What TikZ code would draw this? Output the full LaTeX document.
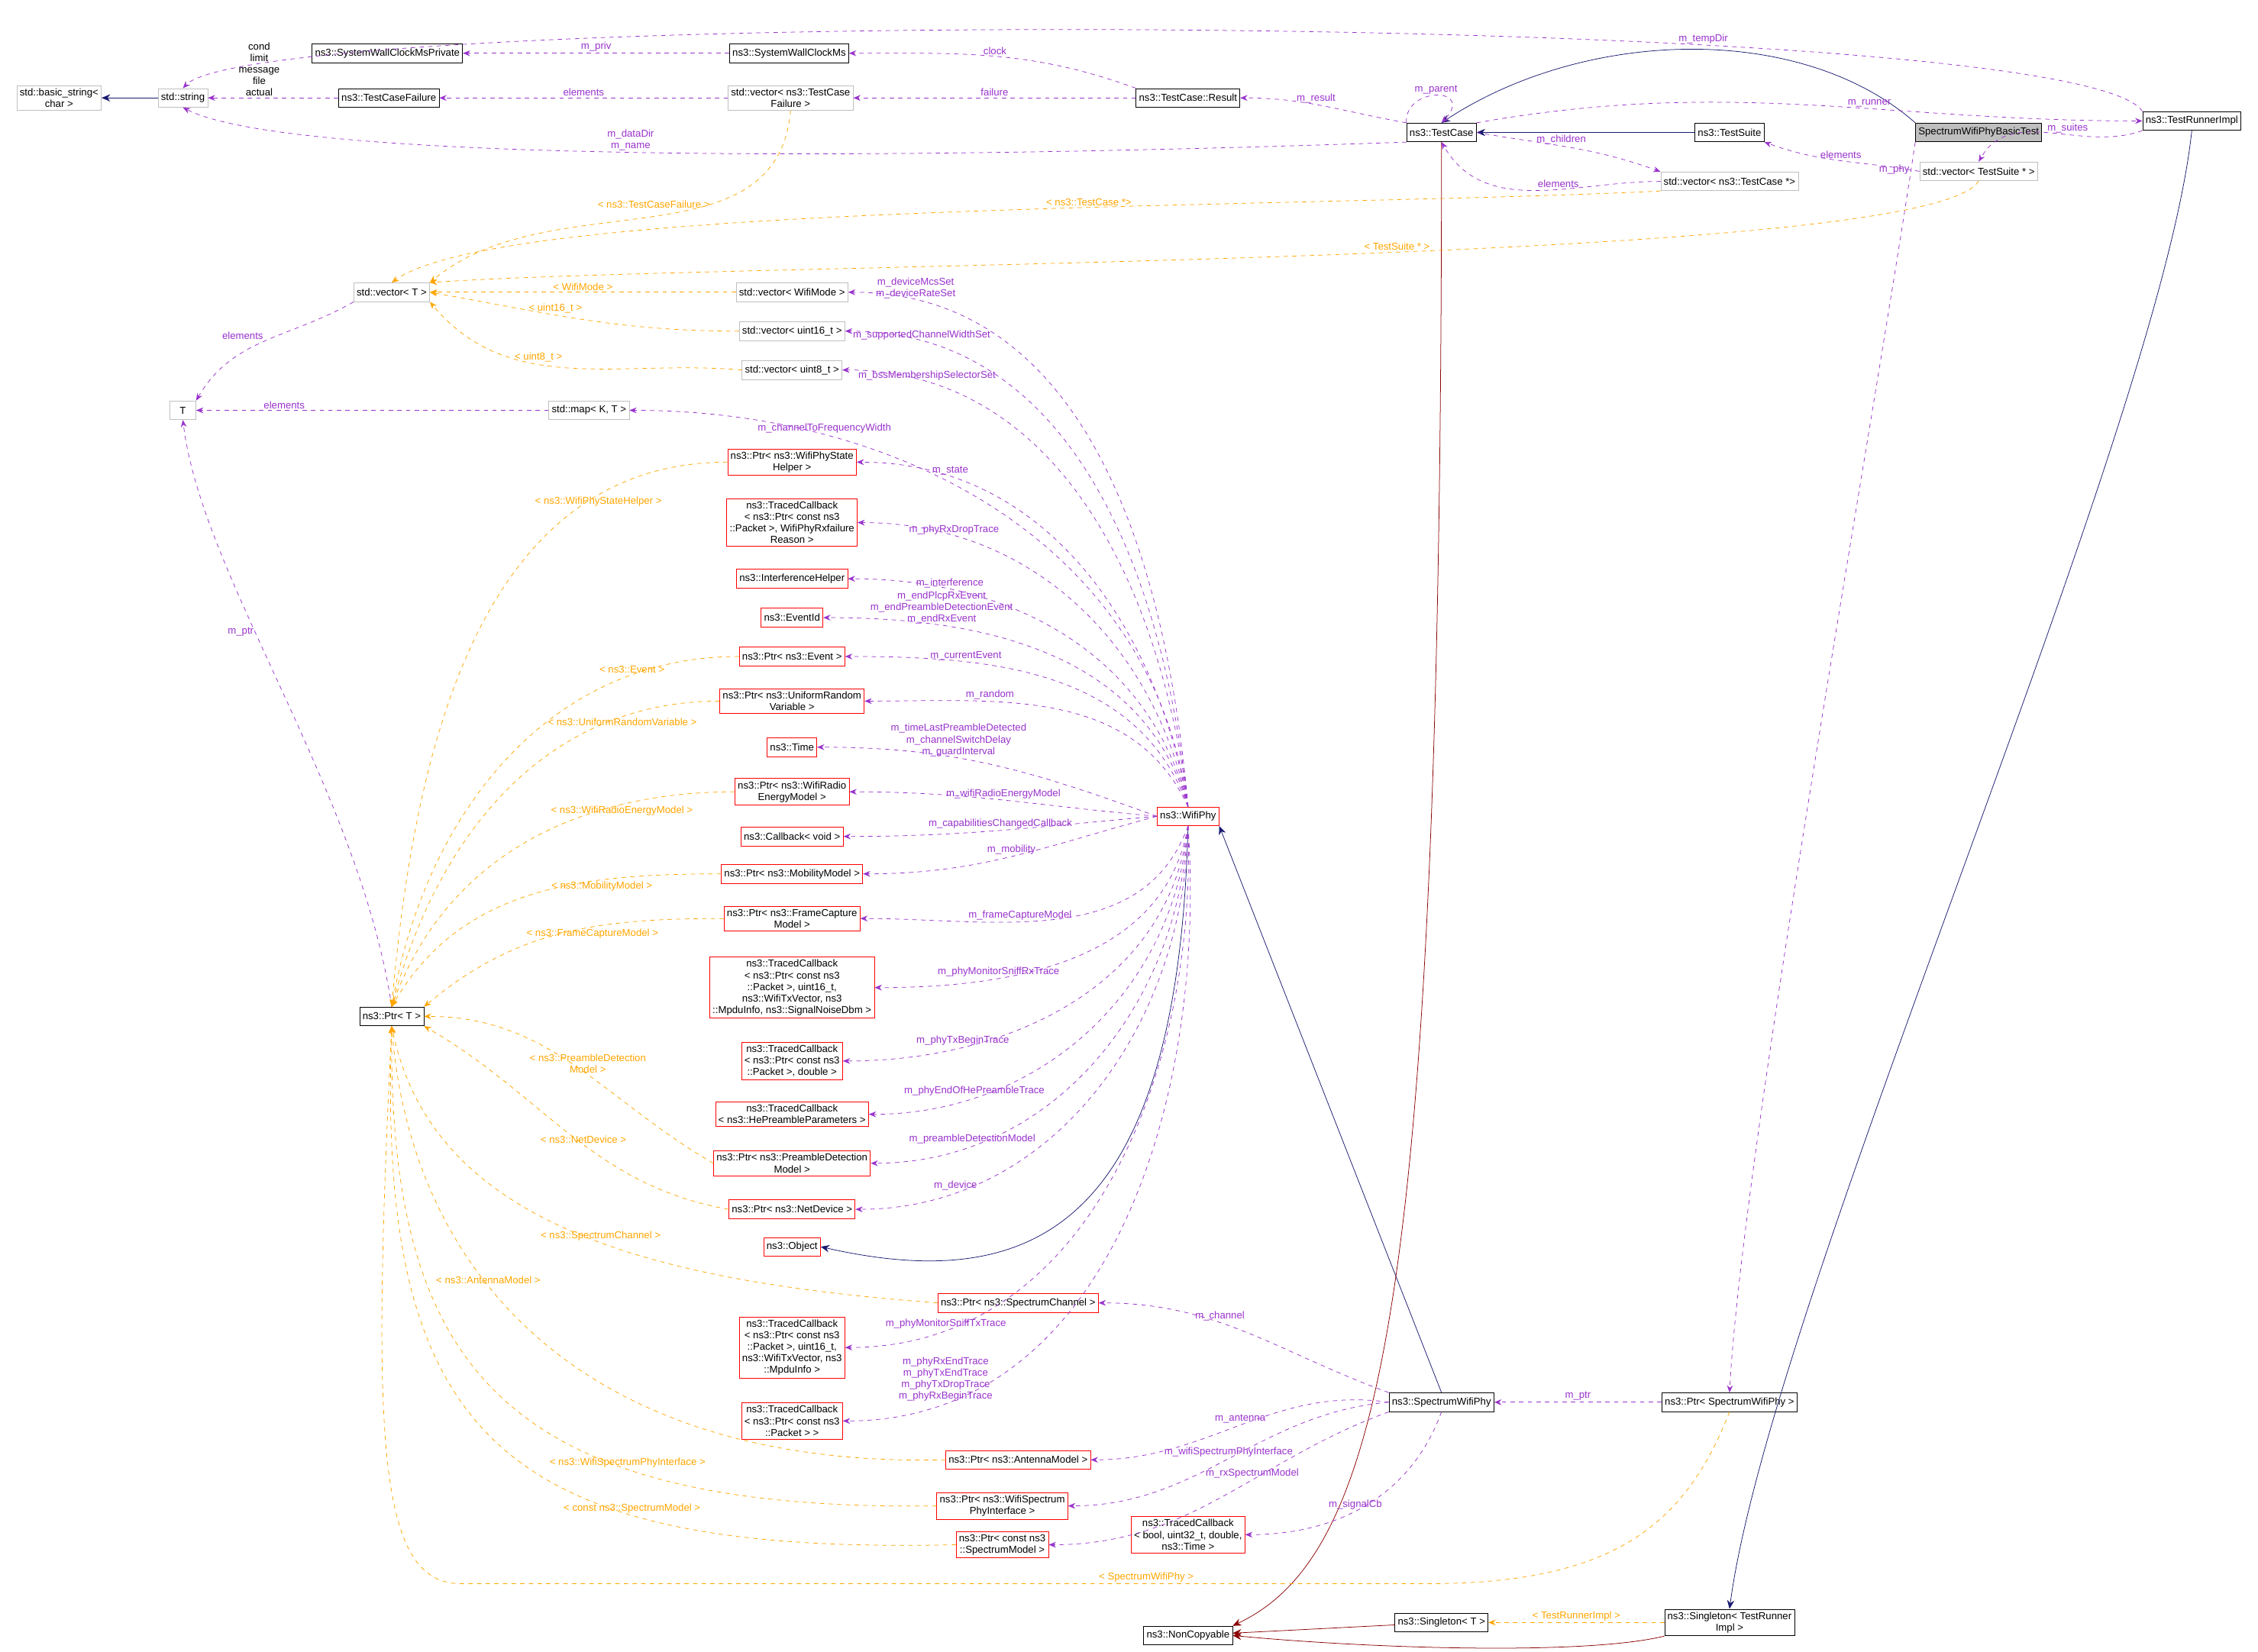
\documentclass[tikz,border=0pt]{standalone}
\usepackage{fontspec}
\setmainfont{Liberation Sans}
\usetikzlibrary{arrows.meta, positioning}
\newcommand{\dfont}{\fontsize{7}{8}\selectfont}
\definecolor{member}{RGB}{153,50,204}
\definecolor{tmpl}{RGB}{255,165,0}
\definecolor{inherit}{RGB}{25,25,112}
\definecolor{priv}{RGB}{139,0,0}
\definecolor{boxgray}{RGB}{191,191,191}
\tikzset{
    box/.style={rectangle, draw, fill=white, minimum height=13pt, inner sep=2pt, align=center, font=\dfont},
    graybox/.style={box, draw=boxgray},
    redbox/.style={box, draw=red},
    mainbox/.style={box, fill=boxgray},
    lbl/.style={font=\dfont, align=center, inner sep=1pt},
    memarrow/.style={-{Stealth[length=5pt, width=4pt]}, member, dashed},
    tmplarrow/.style={-{Stealth[length=5pt, width=4pt]}, tmpl, dashed},
    inharrow/.style={-{Stealth[length=6pt, width=5pt]}, inherit},
    privarrow/.style={-{Stealth[length=6pt, width=5pt]}, priv}
}
\begin{document}
\begin{tikzpicture}[x=1pt, y=-1pt]
    \useasboundingbox (0,0) rectangle (1568,1147);
    % top row
    \node[graybox] (basic_string) at (41,68) {std::basic\_string\textless\\char \textgreater};
    \node[graybox] (std_string) at (127,68) {std::string};
    \node[box] (swcm_private) at (269,37) {ns3::SystemWallClockMsPrivate};
    \node[box] (swcm) at (548,37) {ns3::SystemWallClockMs};
    \node[box] (tc_failure) at (270,68) {ns3::TestCaseFailure};
    \node[graybox] (vec_failure) at (549,68) {std::vector\textless{} ns3::TestCase\\Failure \textgreater};
    \node[box] (tc_result) at (825,68) {ns3::TestCase::Result};
    \node[box] (test_case) at (1001,92) {ns3::TestCase};
    \node[box] (test_suite) at (1201,92) {ns3::TestSuite};
    \node[mainbox] (basic_test) at (1374,92) {SpectrumWifiPhyBasicTest};
    \node[box] (runner_impl) at (1522,84) {ns3::TestRunnerImpl};
    \node[graybox] (vec_case) at (1201,126) {std::vector\textless{} ns3::TestCase *\textgreater};
    \node[graybox] (vec_suite) at (1374,119) {std::vector\textless{} TestSuite * \textgreater};

    % templates
    \node[graybox] (vec_t) at (272,203) {std::vector\textless{} T \textgreater};
    \node[graybox] (vec_mode) at (550,203) {std::vector\textless{} WifiMode \textgreater};
    \node[graybox] (vec_u16) at (550,230) {std::vector\textless{} uint16\_t \textgreater};
    \node[graybox] (vec_u8) at (550,257) {std::vector\textless{} uint8\_t \textgreater};
    \node[graybox, minimum width=18pt] (t_param) at (127,285) {T};
    \node[graybox] (map_kt) at (409,285) {std::map\textless{} K, T \textgreater};
    \node[box] (ptr_t) at (272,706) {ns3::Ptr\textless{} T \textgreater};

    % wifi phy members
    \node[redbox] (ptr_state) at (550,321) {ns3::Ptr\textless{} ns3::WifiPhyState\\Helper \textgreater};
    \node[redbox] (tc_rxfail) at (550,363) {ns3::TracedCallback\\\textless{} ns3::Ptr\textless{} const ns3\\::Packet \textgreater, WifiPhyRxfailure\\Reason \textgreater};
    \node[redbox] (interference) at (550,402) {ns3::InterferenceHelper};
    \node[redbox] (event_id) at (550,429) {ns3::EventId};
    \node[redbox] (ptr_event) at (550,456) {ns3::Ptr\textless{} ns3::Event \textgreater};
    \node[redbox] (ptr_random) at (550,487) {ns3::Ptr\textless{} ns3::UniformRandom\\Variable \textgreater};
    \node[redbox] (time) at (550,519) {ns3::Time};
    \node[redbox] (ptr_energy) at (550,550) {ns3::Ptr\textless{} ns3::WifiRadio\\EnergyModel \textgreater};
    \node[redbox] (callback) at (550,581) {ns3::Callback\textless{} void \textgreater};
    \node[redbox] (ptr_mobility) at (550,607) {ns3::Ptr\textless{} ns3::MobilityModel \textgreater};
    \node[redbox] (ptr_capture) at (550,638) {ns3::Ptr\textless{} ns3::FrameCapture\\Model \textgreater};
    \node[redbox] (tc_sniffrx) at (550,686) {ns3::TracedCallback\\\textless{} ns3::Ptr\textless{} const ns3\\::Packet \textgreater, uint16\_t,\\ ns3::WifiTxVector, ns3\\::MpduInfo, ns3::SignalNoiseDbm \textgreater};
    \node[redbox] (tc_double) at (550,737) {ns3::TracedCallback\\\textless{} ns3::Ptr\textless{} const ns3\\::Packet \textgreater, double \textgreater};
    \node[redbox] (tc_hepre) at (550,774) {ns3::TracedCallback\\\textless{} ns3::HePreambleParameters \textgreater};
    \node[redbox] (ptr_predet) at (550,808) {ns3::Ptr\textless{} ns3::PreambleDetection\\Model \textgreater};
    \node[redbox] (ptr_netdev) at (550,840) {ns3::Ptr\textless{} ns3::NetDevice \textgreater};
    \node[redbox] (object) at (550,866) {ns3::Object};
    \node[redbox] (tc_snifftx) at (550,936) {ns3::TracedCallback\\\textless{} ns3::Ptr\textless{} const ns3\\::Packet \textgreater, uint16\_t,\\ ns3::WifiTxVector, ns3\\::MpduInfo \textgreater};
    \node[redbox] (tc_packet) at (550,987) {ns3::TracedCallback\\\textless{} ns3::Ptr\textless{} const ns3\\::Packet \textgreater{} \textgreater};
    \node[redbox] (wifi_phy) at (825,567) {ns3::WifiPhy};

    % spectrum phy members
    \node[redbox] (ptr_channel) at (707,905) {ns3::Ptr\textless{} ns3::SpectrumChannel \textgreater};
    \node[redbox] (ptr_antenna) at (707,1014) {ns3::Ptr\textless{} ns3::AntennaModel \textgreater};
    \node[redbox] (ptr_iface) at (696,1046) {ns3::Ptr\textless{} ns3::WifiSpectrum\\PhyInterface \textgreater};
    \node[redbox] (ptr_model) at (696,1073) {ns3::Ptr\textless{} const ns3\\::SpectrumModel \textgreater};
    \node[redbox] (tc_signal) at (825,1066) {ns3::TracedCallback\\\textless{} bool, uint32\_t, double,\\ ns3::Time \textgreater};
    \node[box] (spectrum_phy) at (1001,974) {ns3::SpectrumWifiPhy};
    \node[box] (ptr_spectrum) at (1201,974) {ns3::Ptr\textless{} SpectrumWifiPhy \textgreater};
    \node[box] (non_copyable) at (825,1136) {ns3::NonCopyable};
    \node[box] (singleton_t) at (1001,1127) {ns3::Singleton\textless{} T \textgreater};
    \node[box] (singleton_tri) at (1201,1127) {ns3::Singleton\textless{} TestRunner\\Impl \textgreater};

    % Lines: inheritance
    \draw[inharrow] (std_string) -- (basic_string);
    \draw[inharrow] (basic_test.north west) .. controls (1250,15) and (1100,20) .. (test_case.north);
    \draw[inharrow] (test_suite) -- (test_case);
    \draw[inharrow] (wifi_phy.south) .. controls (818,850) and (720,900) .. (object.east);
    \draw[inharrow] (spectrum_phy.north) -- (wifi_phy.south east);
    \draw[inharrow] (runner_impl.south) .. controls (1500,300) and (1230,900) .. (singleton_tri.north);
    \draw[privarrow] (test_case.south) .. controls (1001,900) and (960,1080) .. (non_copyable.north east);
    \draw[privarrow] (singleton_t) -- (non_copyable);
    \draw[privarrow] (singleton_tri.south west) .. controls (1100,1150) and (950,1145) .. (non_copyable.east);

    % Lines: members, top part
    \draw[memarrow] (runner_impl.north west) .. controls (1440,5) and (180,5) .. (std_string.north) node[lbl, pos=0.3, above] {m\_tempDir};
    \draw[memarrow] (swcm) -- node[lbl, above] {m\_priv} (swcm_private);
    \draw[memarrow] (tc_result.north west) to[out=160, in=0] node[lbl, above] {clock} (swcm.east);
    \draw[memarrow] (tc_failure) -- (std_string);
    \node[lbl] (lbl_cond) at (180,48) {cond\\limit\\message\\file\\actual};
    \draw[memarrow] (vec_failure) -- node[lbl, above] {elements} (tc_failure);
    \draw[memarrow] (tc_result) -- node[lbl, above] {failure} (vec_failure);
    \draw[memarrow] (test_case.north west) to[out=170, in=0] node[lbl, above, pos=0.55] {m\_result} (tc_result.east);
    \draw[memarrow] (test_case.north west) .. controls (975,60) and (1025,60) .. node[lbl, above, pos=0.5] {m\_parent} (test_case.north);
    \draw[memarrow] (test_case.south west) .. controls (600,112) and (200,112) .. node[lbl, above, pos=0.5] {m\_dataDir\\m\_name} (std_string.south);
    \draw[memarrow] (test_case.north east) to[out=10, in=180] node[lbl, above, pos=0.6] {m\_runner} (runner_impl.west);
    \draw[memarrow] (test_case.east) to[out=-10, in=160] node[lbl, above, pos=0.45] {m\_children} (vec_case.north west);
    \draw[memarrow] (vec_case.west) to[out=180, in=-60] node[lbl, above, pos=0.4] {elements} (test_case.south);
    \draw[memarrow] (vec_suite.west) to[out=170, in=-20] node[lbl, above] {elements} (test_suite.south east);
    \draw[memarrow] (runner_impl.south west) to[out=200, in=60] node[lbl, above, pos=0.4] {m\_suites} (vec_suite.north);
    \draw[memarrow] (basic_test.south west) .. controls (1300,300) and (1210,800) .. node[lbl, left, pos=0.03] {m\_phy} (ptr_spectrum.north);
    \draw[memarrow] (vec_t.south west) to[out=-150, in=60] node[lbl, pos=0.5, above left] {elements} (t_param.north east);
    \draw[memarrow] (map_kt) -- node[lbl, above, pos=0.75] {elements} (t_param);
    \draw[memarrow] (ptr_t.north) .. controls (250,550) and (140,400) .. node[lbl, pos=0.6, left] {m\_ptr} (t_param.south);

    % Lines: templates, top part
    \draw[tmplarrow] (vec_failure.south) to[out=-95, in=40] node[lbl, pos=0.35, left] {\textless{} ns3::TestCaseFailure \textgreater} (vec_t.north east);
    \draw[tmplarrow] (vec_case.south west) .. controls (900,145) and (350,140) .. node[lbl, pos=0.4, above] {\textless{} ns3::TestCase *\textgreater} (vec_t.north);
    \draw[tmplarrow] (vec_suite.south) .. controls (1340,185) and (500,182) .. node[lbl, pos=0.45, above] {\textless{} TestSuite * \textgreater} (vec_t.north east);
    \draw[tmplarrow] (vec_mode) -- node[lbl, above] {\textless{} WifiMode \textgreater} (vec_t);
    \draw[tmplarrow] (vec_u16.west) to[out=180, in=-10] node[lbl, above, pos=0.6] {\textless{} uint16\_t \textgreater} (vec_t.east);
    \draw[tmplarrow] (vec_u8.west) to[out=175, in=-50] node[lbl, above, pos=0.6] {\textless{} uint8\_t \textgreater} (vec_t.south east);

    % Lines: wifi phy members
    \draw[memarrow] (wifi_phy.north) to[out=95, in=0] node[lbl, pos=0.9, above] {m\_deviceMcsSet\\m\_deviceRateSet} (vec_mode.east);
    \draw[memarrow] (wifi_phy.north) to[out=96, in=0] node[lbl, pos=0.88, above] {m\_supportedChannelWidthSet} (vec_u16.east);
    \draw[memarrow] (wifi_phy.north) to[out=97, in=0] node[lbl, pos=0.86, above] {m\_bssMembershipSelectorSet} (vec_u8.east);
    \draw[memarrow] (wifi_phy.north) to[out=98, in=0] node[lbl, pos=0.75, above] {m\_channelToFrequencyWidth} (map_kt.east);
    \draw[memarrow] (wifi_phy.north) to[out=100, in=0] node[lbl, pos=0.82, above] {m\_state} (ptr_state.east);
    \draw[memarrow] (wifi_phy.north) to[out=102, in=0] node[lbl, pos=0.8, above] {m\_phyRxDropTrace} (tc_rxfail.east);
    \draw[memarrow] (wifi_phy.north) to[out=104, in=0] node[lbl, pos=0.78, above] {m\_interference} (interference.east);
    \draw[memarrow] (wifi_phy.north) to[out=106, in=0] node[lbl, pos=0.75, above] {m\_endPlcpRxEvent\\m\_endPreambleDetectionEvent\\m\_endRxEvent} (event_id.east);
    \draw[memarrow] (wifi_phy.north) to[out=110, in=0] node[lbl, pos=0.72, above] {m\_currentEvent} (ptr_event.east);
    \draw[memarrow] (wifi_phy.north) to[out=115, in=0] node[lbl, pos=0.68, above] {m\_random} (ptr_random.east);
    \draw[memarrow] (wifi_phy.west) to[out=160, in=0] node[lbl, pos=0.6, above] {m\_timeLastPreambleDetected\\m\_channelSwitchDelay\\m\_guardInterval} (time.east);
    \draw[memarrow] (wifi_phy.west) to[out=175, in=0] node[lbl, pos=0.5, above] {m\_wifiRadioEnergyModel} (ptr_energy.east);
    \draw[memarrow] (wifi_phy.west) to[out=185, in=0] node[lbl, pos=0.5, above] {m\_capabilitiesChangedCallback} (callback.east);
    \draw[memarrow] (wifi_phy.west) to[out=195, in=0] node[lbl, pos=0.5, above] {m\_mobility} (ptr_mobility.east);
    \draw[memarrow] (wifi_phy.south) to[out=-110, in=0] node[lbl, pos=0.6, above] {m\_frameCaptureModel} (ptr_capture.east);
    \draw[memarrow] (wifi_phy.south) to[out=-100, in=0] node[lbl, pos=0.7, above] {m\_phyMonitorSniffRxTrace} (tc_sniffrx.east);
    \draw[memarrow] (wifi_phy.south) to[out=-97, in=0] node[lbl, pos=0.75, above] {m\_phyTxBeginTrace} (tc_double.east);
    \draw[memarrow] (wifi_phy.south) to[out=-95, in=0] node[lbl, pos=0.78, above] {m\_phyEndOfHePreambleTrace} (tc_hepre.east);
    \draw[memarrow] (wifi_phy.south) to[out=-93, in=0] node[lbl, pos=0.8, above] {m\_preambleDetectionModel} (ptr_predet.east);
    \draw[memarrow] (wifi_phy.south) to[out=-91, in=0] node[lbl, pos=0.82, above] {m\_device} (ptr_netdev.east);
    \draw[memarrow] (wifi_phy.south) to[out=-88, in=0] node[lbl, pos=0.85, above] {m\_phyMonitorSniffTxTrace} (tc_snifftx.east);
    \draw[memarrow] (wifi_phy.south) to[out=-86, in=0] node[lbl, pos=0.86, above] {m\_phyRxEndTrace\\m\_phyTxEndTrace\\m\_phyTxDropTrace\\m\_phyRxBeginTrace} (tc_packet.east);

    % Lines: spectrum phy members
    \draw[memarrow] (spectrum_phy.north west) to[out=160, in=0] node[lbl, pos=0.6, above] {m\_channel} (ptr_channel.east);
    \draw[memarrow] (spectrum_phy.west) to[out=172, in=0] node[lbl, pos=0.5, above] {m\_antenna} (ptr_antenna.east);
    \draw[memarrow] (spectrum_phy.west) to[out=185, in=0] node[lbl, pos=0.5, above] {m\_wifiSpectrumPhyInterface} (ptr_iface.east);
    \draw[memarrow] (spectrum_phy.south west) to[out=200, in=0] node[lbl, pos=0.4, above] {m\_rxSpectrumModel} (ptr_model.east);
    \draw[memarrow] (spectrum_phy.south) to[out=-110, in=0] node[lbl, pos=0.55, above] {m\_signalCb} (tc_signal.east);
    \draw[memarrow] (ptr_spectrum) -- node[lbl, above] {m\_ptr} (spectrum_phy);

    % Lines: Ptr templates
    \draw[tmplarrow] (ptr_state.west) to[out=180, in=85] node[lbl, pos=0.2, below] {\textless{} ns3::WifiPhyStateHelper \textgreater} (ptr_t.north);
    \draw[tmplarrow] (ptr_event.west) to[out=180, in=80] node[lbl, pos=0.2, above] {\textless{} ns3::Event \textgreater} (ptr_t.north);
    \draw[tmplarrow] (ptr_random.west) to[out=180, in=75] node[lbl, pos=0.2, below] {\textless{} ns3::UniformRandomVariable \textgreater} (ptr_t.north);
    \draw[tmplarrow] (ptr_energy.west) to[out=180, in=70] node[lbl, pos=0.25, below] {\textless{} ns3::WifiRadioEnergyModel \textgreater} (ptr_t.north);
    \draw[tmplarrow] (ptr_mobility.west) to[out=180, in=60] node[lbl, pos=0.3, below] {\textless{} ns3::MobilityModel \textgreater} (ptr_t.north);
    \draw[tmplarrow] (ptr_capture.west) to[out=180, in=40] node[lbl, pos=0.4, below] {\textless{} ns3::FrameCaptureModel \textgreater} (ptr_t.north east);
    \draw[tmplarrow] (ptr_predet.west) to[out=150, in=0] node[lbl, pos=0.45, above] {\textless{} ns3::PreambleDetection\\Model \textgreater} (ptr_t.east);
    \draw[tmplarrow] (ptr_netdev.west) to[out=170, in=-30] node[lbl, pos=0.45, above] {\textless{} ns3::NetDevice \textgreater} (ptr_t.south east);
    \draw[tmplarrow] (ptr_channel.west) .. controls (450,890) and (300,850) .. node[lbl, pos=0.45, above] {\textless{} ns3::SpectrumChannel \textgreater} (ptr_t.south);
    \draw[tmplarrow] (ptr_antenna.west) .. controls (400,1020) and (285,880) .. node[lbl, pos=0.6, above] {\textless{} ns3::AntennaModel \textgreater} (ptr_t.south);
    \draw[tmplarrow] (ptr_iface.west) .. controls (350,1050) and (270,950) .. node[lbl, pos=0.3, above] {\textless{} ns3::WifiSpectrumPhyInterface \textgreater} (ptr_t.south);
    \draw[tmplarrow] (ptr_model.west) .. controls (350,1080) and (262,1000) .. node[lbl, pos=0.3, above] {\textless{} const ns3::SpectrumModel \textgreater} (ptr_t.south);
    \draw[tmplarrow] (ptr_spectrum.south) .. controls (1170,1060) and (1120,1098) .. (1000,1100) -- node[lbl, pos=0.3, above] {\textless{} SpectrumWifiPhy \textgreater} (320,1100) .. controls (262,1100) and (258,1000) .. (ptr_t.south);
    \draw[tmplarrow] (singleton_tri) -- node[lbl, above] {\textless{} TestRunnerImpl \textgreater} (singleton_t);
\end{tikzpicture}
\end{document}
